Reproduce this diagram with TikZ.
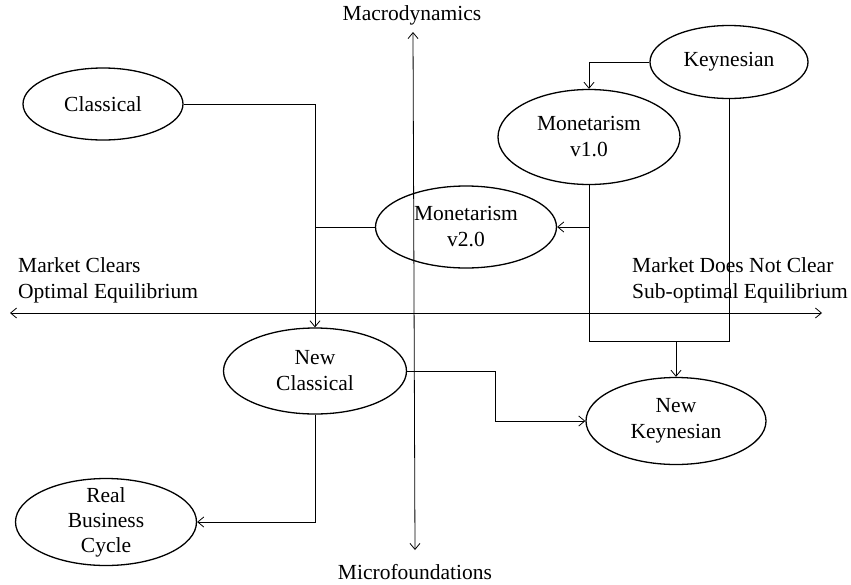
\documentclass[tikz,border=0pt]{standalone}
\usepackage{fontspec}
\setmainfont{Liberation Serif}
\usetikzlibrary{shapes.geometric,arrows.meta}

\begin{document}
\begin{tikzpicture}[x=1pt,y=-1pt,>={Straight Barb[length=6pt,width=10pt]},
  every node/.style={font=\fontsize{21.5}{26}\selectfont},
  school/.style={draw,ellipse,line width=1.3pt,inner sep=0pt,align=center},
  link/.style={line width=0.8pt}]
  \useasboundingbox (0,0) rectangle (851,584);
  % axes
  \node (macro) at (412,15) {Macrodynamics};
  \node (micro) at (415,572) {Microfoundations};
  \coordinate (up) at (413,32);
  \coordinate (down) at (415,550);
  \draw[link,<->] (up) -- (down);
  \coordinate (left) at (10,313);
  \coordinate (right) at (822,313);
  \draw[link,<->] (left) -- (right);
  \node[anchor=west,align=left,inner sep=0pt] (clears) at (18,280) {Market Clears\\Optimal Equilibrium};
  \node[anchor=west,align=left,inner sep=0pt] (noclear) at (632,280) {Market Does Not Clear\\Sub-optimal Equilibrium};
  % schools
  \node[school,minimum width=160pt,minimum height=72pt] (classical) at (103,104) {Classical};
  \node[school,minimum width=158pt,minimum height=73pt] (keynes) at (729,62) {Keynesian};
  \node[school,minimum width=182pt,minimum height=95pt] (mone1) at (589,137) {Monetarism\\v1.0};
  \node[school,minimum width=181pt,minimum height=82pt] (mone2) at (466,227) {Monetarism\\v2.0};
  \node[school,minimum width=183pt,minimum height=86pt] (newclass) at (315,371) {New\\Classical};
  \node[school,minimum width=180pt,minimum height=87pt] (newkeynes) at (676,421) {New\\Keynesian};
  \node[school,minimum width=181pt,minimum height=87pt,inner ysep=-12pt,
    font=\fontsize{21.5}{25}\selectfont] (rbc) at (106,522) {Real\\Business\\Cycle};
  % links
  \draw[link,->] (classical.east) -| (newclass.north);
  \draw[link] (mone2.west) -- (mone2.west -| newclass.north);
  \draw[link,->] (keynes.west) -| (mone1.north);
  \draw[link,->] (mone1.south |- mone2.east) -- (mone2.east);
  \coordinate (join) at (676,341);
  \draw[link] (mone1.south) |- (join);
  \draw[link] (keynes.south) |- (join);
  \draw[link,->] (join) -- (newkeynes.north);
  \draw[link,->] (newclass.east) -- ++(88,0) |- (newkeynes.west);
  \draw[link,->] (newclass.south) |- (rbc.east);
\end{tikzpicture}
\end{document}
